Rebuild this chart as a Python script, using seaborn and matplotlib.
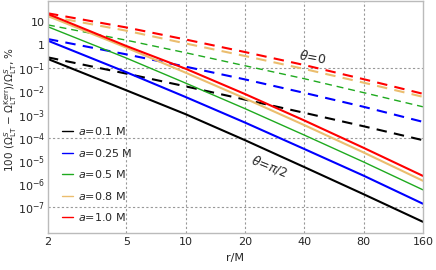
import numpy as np
import pandas as pd
import matplotlib
matplotlib.use('Agg')
import matplotlib.pyplot as plt
import matplotlib.ticker as mtick
import seaborn as sns

# r/M sample points
r = [2, 5, 10, 20, 40, 80, 160]
spins = ['0.1', '0.25', '0.5', '0.8', '1.0']
colors = ['black', '#0000ff', '#1faa1f', '#ebbd6e', '#ff0000']

# log10 of relative difference (%), theta = pi/2 (solid)
eq_log = {
    '0.1':  [-0.60, -1.95, -2.98, -4.10, -5.26, -6.43, -7.62],
    '0.25': [0.19, -1.17, -2.24, -3.34, -4.48, -5.63, -6.84],
    '0.5':  [0.79, -0.56, -1.64, -2.74, -3.88, -5.04, -6.24],
    '0.8':  [1.25, -0.11, -1.19, -2.30, -3.45, -4.63, -5.85],
    '1.0':  [1.34, -0.04, -1.02, -2.11, -3.25, -4.43, -5.64],
}
# theta = 0 (dashed)
pole_log = {
    '0.1':  [-0.53, -1.23, -1.78, -2.35, -2.92, -3.50, -4.10],
    '0.25': [0.26, -0.40, -0.93, -1.48, -2.06, -2.66, -3.31],
    '0.5':  [0.87, 0.21, -0.33, -0.89, -1.45, -2.05, -2.66],
    '0.8':  [1.25, 0.62, 0.07, -0.47, -1.03, -1.62, -2.23],
    '1.0':  [1.37, 0.76, 0.24, -0.30, -0.86, -1.47, -2.10],
}

sns.set_style('white')
plt.rcParams['font.family'] = ['DejaVu Sans']
plt.rcParams['font.size'] = 8

fig = plt.figure(figsize=(4.36, 2.70), dpi=100)
ax = fig.add_axes([0.110, 0.137, 0.860, 0.859])

handles = []
for a, c in zip(spins, colors):
    lw = 1.0 if a == '0.5' else 1.5
    sns.lineplot(x=r, y=10 ** np.array(pole_log[a]), ax=ax, color=c, lw=lw,
                 linestyle=(0, (5, 3.5)), estimator=None)
    sns.lineplot(x=r, y=10 ** np.array(eq_log[a]), ax=ax, color=c, lw=lw,
                 estimator=None)
    h, = ax.plot([], [], color=c, lw=1.0, label=f'$a$=${a}$ M')
    handles.append(h)

ax.set_xscale('log')
ax.set_yscale('log')
ax.set_xlim(2, 160)
ax.set_ylim(7.9e-9, 79)

xt = [2, 5, 10, 20, 40, 80, 160]
ax.set_xticks(xt)
ax.xaxis.set_major_formatter(mtick.FixedFormatter([str(v) for v in xt]))
ax.xaxis.set_minor_locator(mtick.NullLocator())
yt = [10.0 ** k for k in range(1, -8, -1)]
ylab = ['10', '1'] + [f'$10^{{{k}}}$' for k in range(-1, -8, -1)]
ax.set_yticks(yt)
ax.yaxis.set_major_formatter(mtick.FixedFormatter(ylab))
ax.yaxis.set_minor_locator(mtick.NullLocator())
ax.tick_params(length=0, labelsize=8, pad=3)
ax.tick_params(axis='y', pad=2)

for v in [5, 10, 20, 40, 80]:
    ax.axvline(v, color='#999999', lw=0.8, ls=(0, (2, 2)), zorder=0)
for v in [1e-1, 1e-4, 1e-7]:
    ax.axhline(v, color='#999999', lw=0.8, ls=(0, (2, 2)), zorder=0)

for s in ax.spines.values():
    s.set_color('#bbbbbb')
    s.set_linewidth(1.0)

ax.set_xlabel('r/M', fontsize=8, labelpad=4)
ax.set_ylabel(r'100 ($\Omega^{S}_{\rm LT}$ $-$ $\Omega^{\rm Kerr}_{\rm LT}$)/$\Omega^{S}_{\rm LT}$, %',
              fontsize=7.5)
ax.yaxis.set_label_coords(-0.077, 0.534)

ax.text(37, 0.15, r'$\theta$=0', fontsize=9, rotation=-10)
ax.text(21, 2.2e-6, r'$\theta$=$\pi$/2', fontsize=9, rotation=-22)

ax.legend(handles=handles, loc='lower left', frameon=False, fontsize=8,
          handlelength=1.0, labelspacing=0.85, handletextpad=0.5,
          bbox_to_anchor=(0.01, 0.0))

fig.savefig('out.png', dpi=100)
